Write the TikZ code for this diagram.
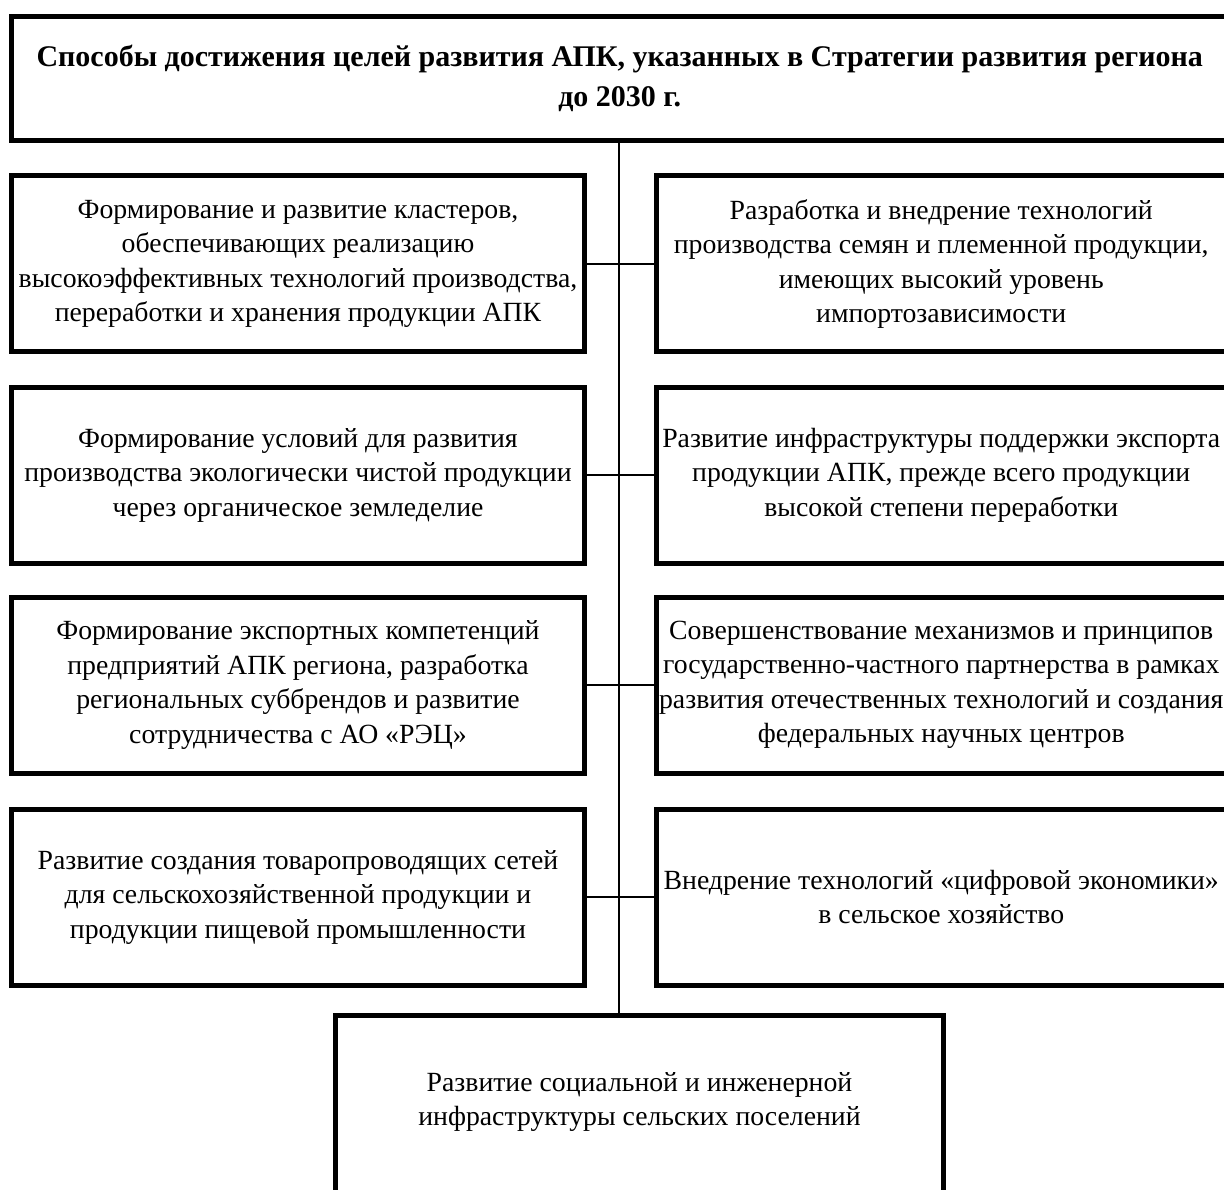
\documentclass[tikz,border=0pt]{standalone}
\usepackage{fontspec}
\setmainfont{Liberation Serif}
\newcommand{\boxfont}{\fontsize{27.75}{34.5}\selectfont}
\newcommand{\titlefont}{\fontsize{30}{40}\selectfont\bfseries}
\begin{document}
\begin{tikzpicture}[x=1pt,y=-1pt,
  box/.style={draw, line width=5pt, inner sep=0pt, align=center, font=\boxfont},
  lbox/.style={box, minimum width=573pt, minimum height=176pt},
  rbox/.style={box, minimum width=569.5pt, minimum height=176pt},
  link/.style={line width=1.5pt}]
\useasboundingbox (0,0) rectangle (1224,1190);
\clip (0,0) rectangle (1224,1190);
\fill[white] (0,0) rectangle (1224,1190);
\coordinate (spine) at (619,0);
\node[box, minimum width=1216.5pt, minimum height=124pt, font=\titlefont] (top) at (619.75,78.5)
  {Способы достижения целей развития АПК, указанных в Стратегии развития региона\\ до 2030 г.};
\node[lbox] (l1) at (298,264) {Формирование и развитие кластеров,\\ обеспечивающих реализацию\\ высокоэффективных технологий производства,\\ переработки и хранения продукции АПК};
\node[rbox] (r1) at (941.25,264) {Разработка и внедрение технологий\\ производства семян и племенной продукции,\\ имеющих высокий уровень\\ импортозависимости};
\node[lbox] (l2) at (298,475) {Формирование условий для развития\\ производства экологически чистой продукции\\ через органическое земледелие};
\node[rbox] (r2) at (941.25,475) {Развитие инфраструктуры поддержки экспорта\\ продукции АПК, прежде всего продукции\\ высокой степени переработки};
\node[lbox] (l3) at (298,685) {Формирование экспортных компетенций\\ предприятий АПК региона, разработка\\ региональных суббрендов и развитие\\ сотрудничества с АО «РЭЦ»};
\node[rbox] (r3) at (941.25,685) {Совершенствование механизмов и принципов\\ государственно-частного партнерства в рамках\\ развития отечественных технологий и создания\\ федеральных научных центров};
\node[lbox] (l4) at (298,897) {Развитие создания товаропроводящих сетей\\ для сельскохозяйственной продукции и\\ продукции пищевой промышленности};
\node[rbox] (r4) at (941.25,897) {Внедрение технологий «цифровой экономики»\\ в сельское хозяйство};
\node[box, minimum width=608pt, minimum height=190pt,
  label={[align=center, font=\boxfont, yshift=8pt]center:{Развитие социальной и инженерной\\ инфраструктуры сельских поселений}}] (b9) at (639.5,1110) {};
\draw[link] (top.south -| spine) -- (b9.north -| spine);
\draw[link] (l1.east) -- (r1.west);
\draw[link] (l2.east) -- (r2.west);
\draw[link] (l3.east) -- (r3.west);
\draw[link] (l4.east) -- (r4.west);
\end{tikzpicture}
\end{document}
